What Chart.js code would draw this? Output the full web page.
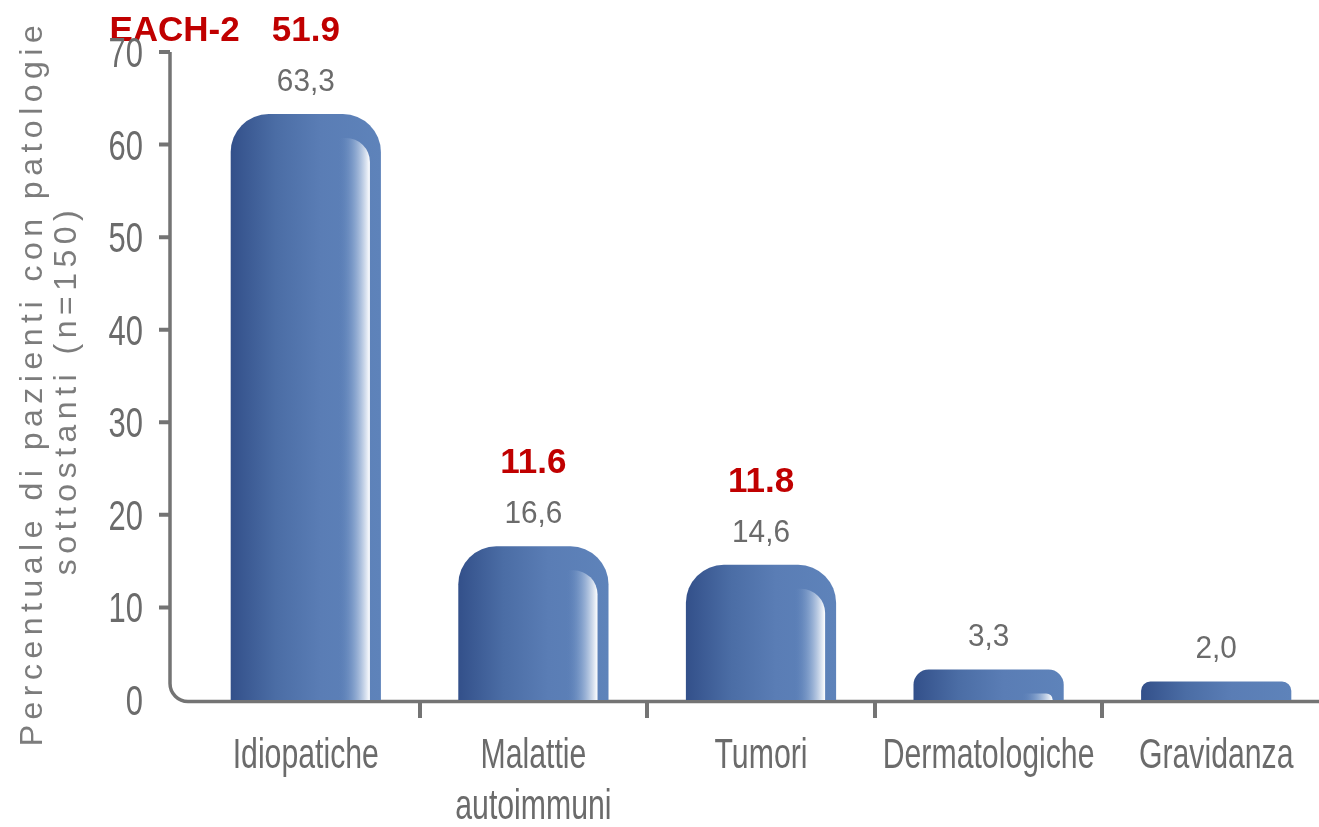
<!DOCTYPE html>
<html>
<head>
<meta charset="utf-8">
<script src="https://cdn.jsdelivr.net/npm/chart.js@4.4.1/dist/chart.umd.min.js"></script>
<style>
  html, body { margin: 0; padding: 0; background: #fff; overflow: hidden; }
  #wrap { width: 1330px; height: 827px; position: relative; }
</style>
</head>
<body>
<div id="wrap"><canvas id="chart"></canvas></div>
<script>
// ---- data ----
const categories = ["Idiopatiche", ["Malattie", "autoimmuni"], "Tumori", "Dermatologiche", "Gravidanza"];
const percentValues = [63.3, 16.6, 14.6, 3.3, 2.0];
const each2Values = [51.9, 11.6, 11.8, null, null];
const each2Label = "EACH-2";
const yTicks = [0, 10, 20, 30, 40, 50, 60, 70];
const yTitleLines = ["Percentuale di pazienti con patologie", "sottostanti (n=150)"];

const REGULAR = "'Liberation Sans', Arial, sans-serif";
const GREY_TEXT = '#6b6b6b';
const AXIS_GREY = '#747474';
const RED = '#c00000';
const BAR_PCT = 0.66;
const AXIS_GAP = 22;   // y axis line sits a bit left of the first category
const SQUEEZE = 0.72;  // the original uses a condensed face

function fmt(v) {
  return v.toFixed(1).replace('.', ',');
}

// draw text squeezed horizontally (no condensed font installed)
function squeezed(ctx, txt, x, y, sx) {
  ctx.save();
  ctx.translate(x, y);
  ctx.scale(sx, 1);
  ctx.fillText(txt, 0, 0);
  ctx.restore();
}

function barFill(ctx) {
  const chart = ctx.chart;
  const xs = chart.scales.x;
  if (!chart.chartArea || !xs) return '#5a7db4';
  const cx = xs.getPixelForValue(ctx.dataIndex);
  const half = xs.width / categories.length * BAR_PCT / 2;
  const g = chart.ctx.createLinearGradient(cx - half, 0, cx + half, 0);
  g.addColorStop(0, '#33508a');
  g.addColorStop(0.3, '#4b6da5');
  g.addColorStop(0.6, '#5a7db5');
  g.addColorStop(1, '#5e83ba');
  return g;
}

// axis line with the rounded corner and the y tick marks
const axisFrame = {
  id: 'axisFrame',
  beforeDatasetsDraw(chart) {
    const { ctx, chartArea, scales } = chart;
    const ax = chartArea.left - AXIS_GAP;
    const top = scales.y.getPixelForValue(yTicks[yTicks.length - 1]);
    const bot = scales.y.getPixelForValue(0) + 1.5;
    ctx.save();
    ctx.strokeStyle = AXIS_GREY;
    ctx.lineWidth = 3.5;
    ctx.beginPath();
    ctx.moveTo(ax, top);
    ctx.lineTo(ax, bot - 18);
    ctx.arcTo(ax, bot, ax + 18, bot, 18);
    ctx.lineTo(chart.width, bot);
    ctx.stroke();
    ctx.lineWidth = 4;
    ctx.beginPath();
    yTicks.forEach(v => {
      if (v === 0) return;
      const py = scales.y.getPixelForValue(v);
      ctx.moveTo(ax - 11, py);
      ctx.lineTo(ax, py);
    });
    ctx.stroke();
    ctx.restore();
  }
};

// glossy strip on the right of each bar + the value labels
const barShine = {
  id: 'barShine',
  afterDatasetsDraw(chart) {
    const ctx = chart.ctx;
    const meta = chart.getDatasetMeta(0);
    ctx.save();
    meta.data.forEach((bar, i) => {
      const { x, y, base, width } = bar.getProps(['x', 'y', 'base', 'width'], true);
      const left = x - width / 2, right = x + width / 2;
      const h = base - y;
      const rr = Math.min(38, width / 2, h / 2);
      ctx.save();
      ctx.beginPath();
      ctx.roundRect(left, y, width, h, [rr, rr, 0, 0]);
      ctx.clip();
      const sTop = y + 24;
      const sh = base - sTop;
      if (sh > 0) {
        const g = ctx.createLinearGradient(right - 42, 0, right - 11, 0);
        g.addColorStop(0, 'rgba(94,131,186,0)');
        g.addColorStop(0.5, 'rgba(160,184,218,0.6)');
        g.addColorStop(1, 'rgba(255,255,255,1)');
        ctx.fillStyle = g;
        ctx.beginPath();
        ctx.roundRect(right - 42, sTop, 31, sh, [0, Math.min(24, sh), 0, 0]);
        ctx.fill();
      }
      ctx.restore();

      // grey value label
      ctx.fillStyle = GREY_TEXT;
      ctx.font = "32px " + REGULAR;
      ctx.textAlign = 'center';
      ctx.textBaseline = 'alphabetic';
      const gy = y - 23;
      squeezed(ctx, fmt(percentValues[i]), x, gy, 0.93);

      // red EACH-2 comparison
      const ev = each2Values[i];
      if (ev !== null && ev !== undefined) {
        ctx.fillStyle = RED;
        ctx.font = "bold 35px " + REGULAR;
        const txt = ev.toFixed(1);
        ctx.textAlign = 'center';
        ctx.fillText(txt, x, gy - 50);
        if (i === 0) {
          const w = ctx.measureText(txt).width;
          ctx.textAlign = 'right';
          ctx.fillText(each2Label, x - w / 2 - 32, gy - 50);
        }
      }
    });
    ctx.restore();
  }
};

// tick labels in a condensed look, at the library's tick positions
const tickText = {
  id: 'tickText',
  afterDraw(chart) {
    const { ctx, scales, chartArea } = chart;
    ctx.save();
    ctx.fillStyle = GREY_TEXT;
    ctx.textBaseline = 'alphabetic';
    ctx.font = "42px " + REGULAR;
    ctx.textAlign = 'center';
    categories.forEach((lab, i) => {
      const lines = Array.isArray(lab) ? lab : [lab];
      const px = scales.x.getPixelForTick(i);
      lines.forEach((ln, j) => {
        squeezed(ctx, ln, px, scales.x.top + 68 + j * 51, SQUEEZE);
      });
    });
    ctx.font = "43px " + REGULAR;
    ctx.textAlign = 'right';
    yTicks.forEach(v => {
      const py = scales.y.getPixelForValue(v);
      squeezed(ctx, String(v), chartArea.left - 49, py + 15, SQUEEZE);
    });
    ctx.restore();
  }
};

// rotated two-line y title
const yTitle = {
  id: 'yTitle',
  afterDraw(chart) {
    const ctx = chart.ctx;
    const spots = [{ bx: 42, cy: 383 }, { bx: 76, cy: 390 }];
    ctx.save();
    ctx.fillStyle = '#7c7c7c';
    ctx.font = "32px " + REGULAR;
    ctx.textAlign = 'center';
    ctx.textBaseline = 'alphabetic';
    if ('letterSpacing' in ctx) ctx.letterSpacing = '5.5px';
    yTitleLines.forEach((line, i) => {
      ctx.save();
      ctx.translate(spots[i].bx, spots[i].cy);
      ctx.rotate(-Math.PI / 2);
      ctx.fillText(line, 0, 0);
      ctx.restore();
    });
    ctx.restore();
  }
};

new Chart(document.getElementById('chart'), {
  type: 'bar',
  data: {
    labels: categories,
    datasets: [{
      data: percentValues,
      backgroundColor: barFill,
      borderWidth: 0,
      borderRadius: { topLeft: 38, topRight: 38, bottomLeft: 0, bottomRight: 0 },
      borderSkipped: 'bottom',
      barPercentage: BAR_PCT,
      categoryPercentage: 1
    }]
  },
  options: {
    responsive: true,
    maintainAspectRatio: false,
    animation: false,
    layout: { padding: { top: 52, right: 0, bottom: 0, left: 0 } },
    plugins: {
      legend: { display: false },
      tooltip: { enabled: false }
    },
    scales: {
      x: {
        grid: {
          display: true,
          drawOnChartArea: false,
          drawTicks: true,
          tickLength: 18,
          offset: true,
          lineWidth: 4,
          color: c => (c.index === 0 ? 'rgba(0,0,0,0)' : AXIS_GREY)
        },
        border: { display: false },
        ticks: { display: false, autoSkip: false, maxRotation: 0 },
        afterFit: s => { s.height = 127; }
      },
      y: {
        min: yTicks[0],
        max: yTicks[yTicks.length - 1],
        grid: { display: false, drawTicks: false },
        border: { display: false },
        ticks: { display: false, stepSize: yTicks[1] - yTicks[0] },
        afterFit: s => { s.width = 192; }
      }
    }
  },
  plugins: [axisFrame, barShine, tickText, yTitle]
});
</script>
</body>
</html>
